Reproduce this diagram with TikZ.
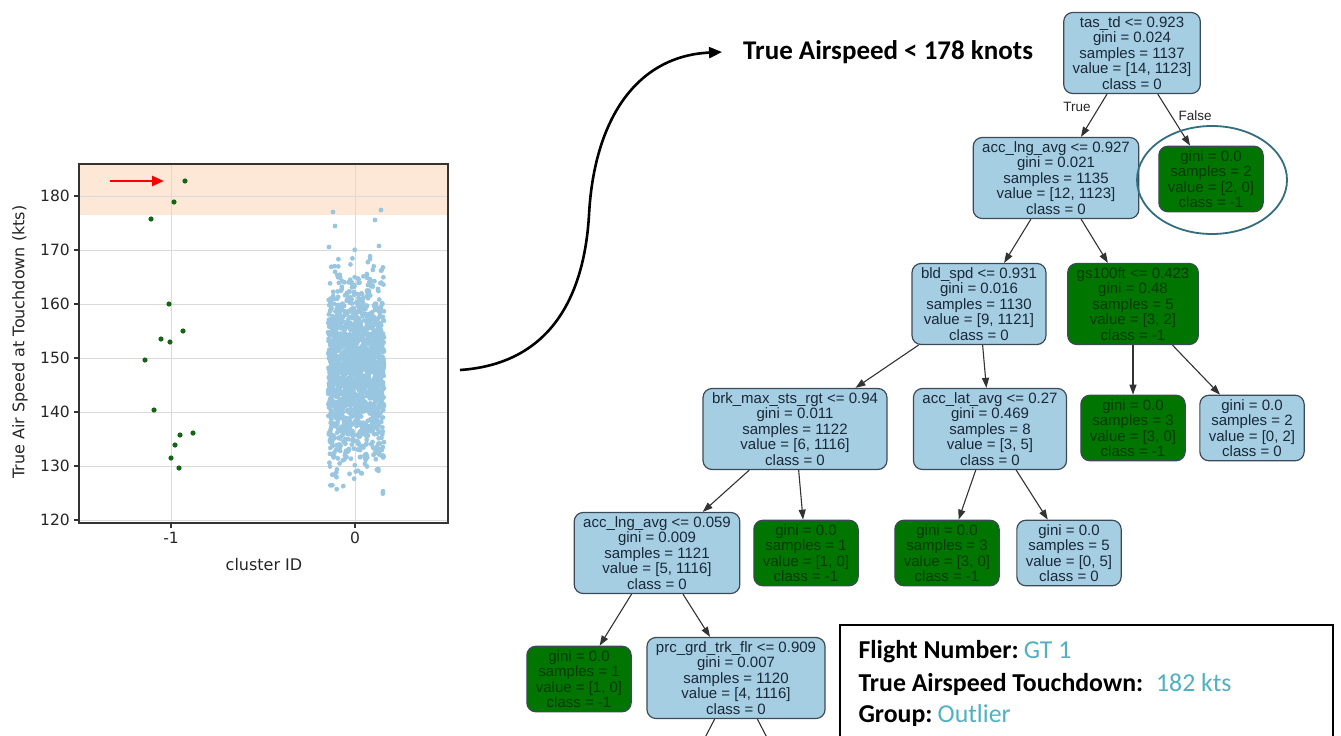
\documentclass[tikz,border=0pt]{standalone}
\usepackage{fontspec}
\setmainfont{Liberation Sans}
\newfontfamily\plotfont{DejaVu Sans}
\newfontfamily\slidefont{Carlito}
\usetikzlibrary{arrows.meta}

\definecolor{splitblue}{RGB}{166,206,227}
\definecolor{leafgreen}{RGB}{0,118,0}
\definecolor{greentext}{RGB}{0,58,0}
\definecolor{bluetext}{RGB}{24,40,56}
\definecolor{nodeline}{RGB}{60,74,88}
\definecolor{bandorange}{RGB}{253,231,214}
\definecolor{gridgray}{RGB}{218,218,218}
\definecolor{cloudblue}{RGB}{152,197,224}
\definecolor{outgreen}{RGB}{22,100,22}
\definecolor{accent}{RGB}{80,178,192}
\definecolor{ringteal}{RGB}{50,110,125}

\begin{document}
\begin{tikzpicture}[x=1pt, y=-1pt,
    split/.style={draw=nodeline, line width=1.2pt, rounded corners=9pt, fill=splitblue,
      text=bluetext, align=center, inner xsep=9pt, inner ysep=4pt,
      font=\fontsize{15}{15.5}\selectfont},
    greenleaf/.style={split, fill=leafgreen, text=greentext},
    branch/.style={draw=black!80, line width=1.1pt, -{Triangle[length=10pt,width=7pt]}},
    edgelabel/.style={font=\fontsize{13.5}{15}\selectfont, text=black!85},
    gridline/.style={draw=gridgray, line width=1pt},
    axisline/.style={draw=black!80, line width=1.3pt},
    ticklabel/.style={font=\plotfont\fontsize{15.5}{17}\selectfont, text=black!85, inner sep=1pt},
    axislabel/.style={font=\plotfont\fontsize{16}{18}\selectfont, text=black!85},
    bigarrow/.style={draw=black, line width=2.6pt, -{Triangle[length=13pt,width=11pt]}},
    infotext/.style={font=\slidefont\fontsize{25.8}{30}\selectfont}]
  \useasboundingbox (0,0) rectangle (1341,736);
  \clip (0,0) rectangle (1341,736);
  \fill[white] (0,0) rectangle (1341,736);

  % ---- scatter panel ----
  \fill[bandorange] (79,164) rectangle (448,215);
  \foreach \v in {120,130,...,180} {
    \pgfmathsetmacro\yy{196+(180-\v)*5.4}
    \draw[gridline] (79,\yy) -- (448,\yy);
    \draw[axisline] (74,\yy) -- (79,\yy);
    \node[ticklabel, anchor=east] (ytick\v) at (71,\yy) {\v};
  }
  \foreach \c/\xx in {-1/171, 0/355} {
    \draw[gridline] (\xx,164) -- (\xx,523);
    \draw[axisline] (\xx,523) -- (\xx,528);
    \node[ticklabel, anchor=north] (xtick\xx) at (\xx,531) {\c};
  }

  % cluster 0
  \pgfmathsetseed{42}
  \foreach \i in {1,...,1800} {
    \pgfmathsetmacro\cx{356+28*rand}
    \pgfmathsetmacro\cy{372-44*(rand+rand+rand)}
    \fill[cloudblue] (\cx,\cy) circle (2.4pt);
  }
  \foreach \cx/\cy in {333/212, 381/210, 335/226, 375/220, 329/247, 379/246}
    \fill[cloudblue] (\cx,\cy) circle (2.4pt);

  % cluster -1
  \foreach \cx/\cy in {185/181, 174/202, 151/219, 169/304, 183/331, 161/339, 170/342,
      145/360, 154/410, 180/435, 193/433, 175/445, 171/458, 179/468}
    \fill[outgreen] (\cx,\cy) circle (2.6pt);

  \draw[axisline] (79,164) rectangle (448,523);
  \draw[red, line width=2.4pt, -{Triangle[length=12pt,width=10pt]}] (110,181) -- (164,181);

  \node[axislabel] (xlab) at (264,565) {cluster ID};
  \node[axislabel, rotate=90] (ylab) at (20,342) {True Air Speed at Touchdown (kts)};

  % ---- split rule ----
  \node[infotext, font=\slidefont\bfseries\fontsize{27}{30}\selectfont, anchor=west, inner sep=0pt]
    (cut) at (743,52) {True Airspeed < 178 knots};
  \coordinate (plotout) at (460,370);
  \draw[bigarrow] (plotout) .. controls (548,364) and (584,300) .. (589,215)
    .. controls (594,120) and (636,56) .. ([xshift=-21pt]cut.west);

  % ---- tree ----
  \node[split] (root) at (1132,53) {tas\_td <= 0.923\\gini = 0.024\\samples = 1137\\value = [14, 1123]\\class = 0};
  \node[split] (accA) at (1056,178) {acc\_lng\_avg <= 0.927\\gini = 0.021\\samples = 1135\\value = [12, 1123]\\class = 0};
  \node[greenleaf] (leafF) at (1211,179) {gini = 0.0\\samples = 2\\value = [2, 0]\\class = -1};
  \node[split] (bld) at (979,304) {bld\_spd <= 0.931\\gini = 0.016\\samples = 1130\\value = [9, 1121]\\class = 0};
  \node[greenleaf] (gs) at (1133,304) {gs100ft <= 0.423\\gini = 0.48\\samples = 5\\value = [3, 2]\\class = -1};
  \node[split] (brk) at (795,429) {brk\_max\_sts\_rgt <= 0.94\\gini = 0.011\\samples = 1122\\value = [6, 1116]\\class = 0};
  \node[split] (lat) at (990,429) {acc\_lat\_avg <= 0.27\\gini = 0.469\\samples = 8\\value = [3, 5]\\class = 0};
  \node[greenleaf] (gsL) at (1133,428) {gini = 0.0\\samples = 3\\value = [3, 0]\\class = -1};
  \node[split] (gsR) at (1252,428) {gini = 0.0\\samples = 2\\value = [0, 2]\\class = 0};
  \node[split] (accB) at (657,553) {acc\_lng\_avg <= 0.059\\gini = 0.009\\samples = 1121\\value = [5, 1116]\\class = 0};
  \node[greenleaf] (brkR) at (806,553) {gini = 0.0\\samples = 1\\value = [1, 0]\\class = -1};
  \node[greenleaf] (latL) at (947,553) {gini = 0.0\\samples = 3\\value = [3, 0]\\class = -1};
  \node[split] (latR) at (1069,553) {gini = 0.0\\samples = 5\\value = [0, 5]\\class = 0};
  \node[greenleaf] (leafB) at (579,679) {gini = 0.0\\samples = 1\\value = [1, 0]\\class = -1};
  \node[split] (prc) at (736,678) {prc\_grd\_trk\_flr <= 0.909\\gini = 0.007\\samples = 1120\\value = [4, 1116]\\class = 0};
  \coordinate (prcleft) at (684,778);
  \coordinate (prcright) at (788,778);

  \draw[branch] (root) -- (accA);
  \draw[branch] (root) -- (leafF);
  \draw[branch] (accA) -- (bld);
  \draw[branch] (accA) -- (gs);
  \draw[branch] (bld) -- (brk);
  \draw[branch] (bld) -- (lat);
  \draw[branch] (gs) -- (gsL);
  \draw[branch] (gs) -- (gsR);
  \draw[branch] (brk) -- (accB);
  \draw[branch] (brk) -- (brkR);
  \draw[branch] (lat) -- (latL);
  \draw[branch] (lat) -- (latR);
  \draw[branch] (accB) -- (leafB);
  \draw[branch] (accB) -- (prc);
  \draw[branch] (prc) -- (prcleft);
  \draw[branch] (prc) -- (prcright);

  \node[edgelabel] (truelbl) at (1077,107) {True};
  \node[edgelabel] (falselbl) at (1195,116) {False};
  \draw[ringteal, line width=1.8pt] ([xshift=1pt,yshift=-1pt]leafF.center) ellipse [x radius=75pt, y radius=54pt];

  % ---- flight info ----
  \draw[black, line width=1.8pt] (840,625) rectangle (1333,760);
  \node[infotext, anchor=west] (flight) at (855,652) {\textbf{Flight Number:}\hspace{-0.1em} \textcolor{accent}{GT 1}};
  \node[infotext, anchor=west] (tas) at (855,684) {\textbf{True Airspeed Touchdown:}\hspace{0.2em} \textcolor{accent}{182 kts}};
  \node[infotext, anchor=west] (group) at (855,716) {\textbf{Group:}\hspace{-0.1em} \textcolor{accent}{Outlier}};
\end{tikzpicture}
\end{document}
